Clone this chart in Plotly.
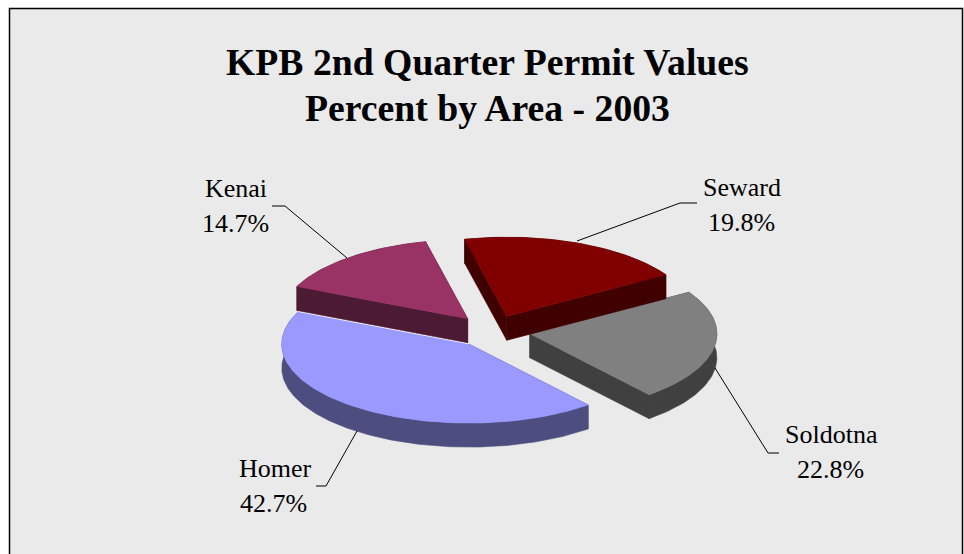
import math
import plotly.graph_objects as go

# --- data ---
categories = ["Seward", "Soldotna", "Homer", "Kenai"]
percent = [19.8, 22.8, 42.7, 14.7]
title_lines = ["KPB 2nd Quarter Permit Values", "Percent by Area - 2003"]

# --- style / geometry of the tilted pie (pixel-valued axes) ---
top_colors = {"Seward": "#800000", "Soldotna": "#808080", "Homer": "#9999FF", "Kenai": "#993366"}
side_colors = {"Seward": "#400000", "Soldotna": "#404040", "Homer": "#4D4D80", "Kenai": "#4D1A33"}
draw_order = ["Soldotna", "Seward", "Homer", "Kenai"]
CX, CY = 492.0, 331.2
RX, RY = 187.0, 79.0
EXPLODE = 0.205
DEPTH = 24.0
START_DEG = -103.0

label_pos = {
    "Seward": (742, 187, 741, 222),
    "Soldotna": (831, 434, 830, 469),
    "Homer": (275, 468, 273, 503),
    "Kenai": (236, 188, 235, 223),
}
leaders = {
    "Seward": ([697, 680, 577], [203, 203, 241]),
    "Soldotna": ([779, 768, 715], [453, 453, 368]),
    "Homer": ([316, 326, 357], [486, 486, 431]),
    "Kenai": ([272, 285, 347], [206, 206, 258]),
}


def slices():
    out = {}
    total = sum(percent)
    a = START_DEG
    for name, v in zip(categories, percent):
        b = a + 360.0 * v / total
        mid = math.radians((a + b) / 2)
        ax = CX + EXPLODE * RX * math.cos(mid)
        ay = CY + EXPLODE * RY * math.sin(mid)
        n = max(8, int(b - a))
        arc = []
        for i in range(n + 1):
            t = math.radians(a + (b - a) * i / n)
            arc.append((ax + RX * math.cos(t), ay + RY * math.sin(t)))
        out[name] = ((ax, ay), arc)
        a = b
    return out


def poly(fig, pts, color, name, line=None):
    fig.add_trace(go.Scatter(
        x=[p[0] for p in pts], y=[p[1] for p in pts], mode="lines", fill="toself",
        fillcolor=color, line=dict(color=line or color, width=0.6), name=name,
        hoverinfo="name", showlegend=False))


def down(pts):
    return [(x, y + DEPTH) for x, y in pts]


fig = go.Figure()
geo = slices()
for name in draw_order:
    apex, arc = geo[name]
    side, top = side_colors[name], top_colors[name]
    for edge in ([apex, arc[0]], [apex, arc[-1]], arc):
        poly(fig, edge + down(edge)[::-1] + [edge[0]], side, name)
    poly(fig, [apex] + arc + [apex], top, name)
    if name == "Homer":
        # pale highlight along the back-left edge of the Homer slice
        fig.add_trace(go.Scatter(x=[apex[0], arc[-1][0]], y=[apex[1] - 0.5, arc[-1][1] - 0.5], mode="lines",
                                 line=dict(color="#F4F4FF", width=1.5), hoverinfo="skip", showlegend=False))

for name in categories:
    xs, ys = leaders[name]
    fig.add_trace(go.Scatter(x=xs, y=ys, mode="lines", line=dict(color="#000000", width=1),
                             hoverinfo="skip", showlegend=False))

annotations = []
for name, v in zip(categories, percent):
    x1, y1, x2, y2 = label_pos[name]
    for x, y, txt in ((x1, y1, name), (x2, y2, f"{v}%")):
        annotations.append(dict(x=x, y=y, xref="x", yref="y", text=txt, showarrow=False,
                                xanchor="center", yanchor="middle",
                                font=dict(family="Liberation Serif", size=26, color="#000000")))
for y, txt in zip((62, 108), title_lines):
    annotations.append(dict(x=487, y=y, xref="x", yref="y", text=f"<b>{txt}</b>", showarrow=False,
                            xanchor="center", yanchor="middle",
                            font=dict(family="Liberation Serif", size=37.7, color="#000000")))

fig.update_layout(
    width=964, height=554, margin=dict(l=0, r=0, t=0, b=0),
    paper_bgcolor="#FFFFFF", plot_bgcolor="#FFFFFF", showlegend=False,
    xaxis=dict(range=[0, 964], visible=False, fixedrange=True),
    yaxis=dict(range=[554, 0], visible=False, fixedrange=True),
    shapes=[dict(type="rect", xref="x", yref="y", x0=9.5, y0=8.5, x1=962.5, y1=570,
                 fillcolor="#EAEAEA", line=dict(color="#000000", width=1.5), layer="below")],
    annotations=annotations,
)
fig.write_html("out.html", post_script="document.body.style.margin='0';", config={"displayModeBar": False})
